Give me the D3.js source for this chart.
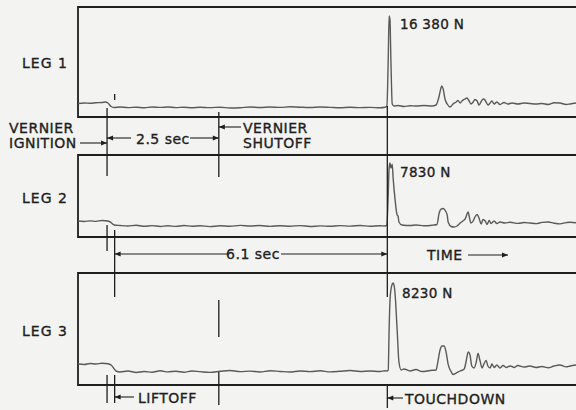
<!DOCTYPE html>
<html><head><meta charset="utf-8">
<script src="https://cdn.jsdelivr.net/npm/d3@7"></script>
<style>
html,body{margin:0;padding:0;background:#f3f3f1;}
svg{display:block;}
text{font-family:"DejaVu Sans",sans-serif;fill:#1e1e1e;stroke:#1e1e1e;stroke-width:0.35px;}
</style></head>
<body>
<script>
// ---- data (time in s from vernier ignition, leg force in N) ----
const legNames = ["LEG 1", "LEG 2", "LEG 3"];
const peakLabels = ["16 380 N", "7830 N", "8230 N"];
const peakForces = [16380, 7830, 8230];
const eventNames = ["VERNIER IGNITION", "LIFTOFF", "VERNIER SHUTOFF", "TOUCHDOWN"];
const eventTimes = [0, 0.17, 2.5, 6.27];
const intervalLabels = ["2.5 sec", "6.1 sec"];

const leg1 = [[-0.65,630],[-0.51,720],[-0.38,670],[-0.25,760],[-0.11,810],[-0.04,900],[0.02,720],[0.09,90],[0.16,-90],[0.29,0],[0.47,-110],[0.65,-40],[0.83,-140],[1.01,0],[1.19,-70],[1.36,0],[1.54,-110],[1.72,-40],[1.90,-140],[2.08,-50],[2.30,-110],[2.53,-40],[2.75,-180],[2.98,-140],[3.20,0],[3.42,-90],[3.65,0],[3.87,-70],[4.09,40],[4.32,-40],[4.54,-90],[4.77,0],[4.99,-70],[5.21,-140],[5.44,-50],[5.66,-110],[5.88,-70],[6.11,-140],[6.22,-50],[6.26,180],[6.29,8460],[6.31,16380],[6.33,15660],[6.35,8460],[6.38,540],[6.42,180],[6.51,270],[6.64,90],[6.78,220],[6.91,180],[7.09,270],[7.27,180],[7.36,360],[7.43,1980],[7.47,3420],[7.49,3780],[7.52,3240],[7.56,1440],[7.61,540],[7.67,0],[7.74,540],[7.81,900],[7.85,1170],[7.90,720],[7.94,1080],[8.01,1440],[8.05,1620],[8.10,1080],[8.14,540],[8.19,900],[8.23,1350],[8.28,1080],[8.32,360],[8.39,1260],[8.43,1440],[8.48,900],[8.52,360],[8.57,720],[8.61,1080],[8.66,540],[8.72,900],[8.79,450],[8.88,810],[8.97,540],[9.06,720],[9.19,540],[9.33,720],[9.46,630],[9.60,540],[9.73,630],[9.87,450],[10.00,760],[10.13,720],[10.27,450],[10.36,540],[10.49,720]];

const leg2 = [[-0.65,620],[-0.51,560],[-0.38,640],[-0.25,580],[-0.11,680],[0.02,620],[0.09,430],[0.16,124],[0.29,60],[0.47,0],[0.65,90],[0.83,-40],[1.01,50],[1.19,-60],[1.36,25],[1.54,-50],[1.72,60],[1.90,-25],[2.08,40],[2.30,-75],[2.53,25],[2.75,-40],[2.98,75],[3.20,0],[3.42,60],[3.65,-50],[3.87,40],[4.09,-25],[4.32,50],[4.54,-60],[4.77,12],[4.99,-40],[5.21,50],[5.44,-12],[5.66,60],[5.88,-25],[6.11,25],[6.22,0],[6.26,124],[6.29,3840],[6.31,7190],[6.33,7830],[6.35,7190],[6.38,7690],[6.40,5950],[6.44,3470],[6.49,1360],[6.51,1240],[6.53,500],[6.60,124],[6.78,60],[6.91,124],[7.09,25],[7.27,90],[7.38,190],[7.43,1610],[7.47,2110],[7.52,2170],[7.56,1980],[7.61,1360],[7.63,500],[7.70,-60],[7.76,-124],[7.83,0],[7.90,370],[7.96,620],[8.01,870],[8.08,1740],[8.10,1240],[8.14,370],[8.19,620],[8.23,1120],[8.28,1430],[8.32,990],[8.37,250],[8.41,810],[8.46,620],[8.50,190],[8.55,680],[8.59,310],[8.66,620],[8.72,310],[8.79,500],[8.90,370],[9.02,460],[9.19,330],[9.33,430],[9.46,370],[9.60,300],[9.73,450],[9.87,500],[10.00,350],[10.13,270],[10.27,420],[10.36,470],[10.49,400]];

const leg3 = [[-0.65,650],[-0.51,610],[-0.38,700],[-0.25,650],[-0.11,720],[0.02,680],[0.09,560],[0.16,200],[0.20,0],[0.29,-90],[0.47,0],[0.65,-140],[0.83,-50],[1.01,-120],[1.19,20],[1.36,-80],[1.54,-20],[1.72,-110],[1.90,0],[2.08,-60],[2.30,-130],[2.53,-30],[2.75,50],[2.98,-60],[3.20,-10],[3.42,-90],[3.65,30],[3.87,-40],[4.09,-100],[4.32,0],[4.54,-60],[4.77,20],[4.99,-80],[5.21,-30],[5.44,40],[5.66,-50],[5.88,0],[6.11,-40],[6.22,20],[6.26,0],[6.29,90],[6.31,3830],[6.33,6640],[6.35,7570],[6.38,8130],[6.40,8230],[6.42,8040],[6.44,7390],[6.49,3830],[6.53,840],[6.58,90],[6.64,190],[6.78,0],[6.91,140],[7.05,-50],[7.23,50],[7.36,90],[7.40,840],[7.45,1960],[7.49,2340],[7.54,2340],[7.58,1870],[7.63,650],[7.70,-90],[7.74,-330],[7.81,-190],[7.90,0],[7.99,190],[8.03,840],[8.08,1780],[8.12,1500],[8.16,470],[8.21,280],[8.26,840],[8.30,1640],[8.34,1030],[8.39,280],[8.43,650],[8.48,980],[8.52,470],[8.57,280],[8.61,650],[8.66,330],[8.72,560],[8.79,280],[8.86,510],[8.93,330],[9.02,470],[9.11,330],[9.19,510],[9.33,370],[9.46,470],[9.60,330],[9.73,420],[9.87,300],[10.00,470],[10.13,560],[10.27,390],[10.36,470],[10.49,560]];

const traces = [leg1, leg2, leg3];

// ---- layout ----
const W = 576, H = 410;
const svg = d3.select("body").append("svg").attr("width", W).attr("height", H);
svg.append("rect").attr("width", W).attr("height", H).attr("fill", "#f3f3f1");

const defs = svg.append("defs");
defs.append("marker").attr("id","ah").attr("viewBox","0 0 10 10")
  .attr("refX",10).attr("refY",5).attr("markerWidth",9).attr("markerHeight",6)
  .attr("markerUnits","userSpaceOnUse").attr("orient","auto-start-reverse")
  .append("path").attr("d","M0,1 L10,5 L0,9 Z").attr("fill","#1e1e1e");
defs.append("filter").attr("id","soft").append("feGaussianBlur").attr("stdDeviation",0.35);

const x = d3.scaleLinear().domain([-0.65, 10.5]).range([78, 576.4]);

const panels = [
  {top:7,   bottom:117, base:107, peakY:16,  labelY:68,  peakLabX:400, peakLabY:29},
  {top:155, bottom:237, base:226, peakY:163, labelY:203, peakLabX:400, peakLabY:177},
  {top:273, bottom:385, base:371, peakY:283, labelY:336, peakLabX:402, peakLabY:298}
];

const ink = "#1e1e1e";
const tr = "#5a5a5a";

panels.forEach((p, i) => {
  const y = d3.scaleLinear().domain([0, peakForces[i]]).range([p.base, p.peakY]);
  const g = svg.append("g");
  g.append("path").attr("d", `M${W+5},${p.top} H78 V${p.bottom} H${W+5}`)
    .attr("fill","none").attr("stroke",ink).attr("stroke-width",1.8);
  g.append("path").datum(traces[i])
    .attr("d", d3.line().x(d => x(d[0])).y(d => y(d[1])).curve(d3.curveMonotoneX))
    .attr("fill","none").attr("stroke",tr).attr("stroke-width",1.4)
    .attr("stroke-linejoin","round").attr("filter","url(#soft)");
  g.append("text").attr("x",22).attr("y",p.labelY).attr("font-size",14)
    .attr("letter-spacing",1).text(legNames[i]);
  g.append("text").attr("x",p.peakLabX).attr("y",p.peakLabY).attr("font-size",13.5)
    .attr("letter-spacing",0.3).text(peakLabels[i]);
});

// event marker lines
const [tIgn, tLift, tShut, tTouch] = eventTimes.map(t => x(t));
const vsegs = [
  [tIgn,108,176],[tIgn,225,251],[tIgn,375,403],
  [tLift,94,100],[tLift,230,297],[tLift,375,403],
  [tShut,112,177],[tShut,300,337],[tShut,372,405],
  [tTouch,106,297],[tTouch,385,408]
];
svg.append("g").selectAll("line").data(vsegs).join("line")
  .attr("x1",d=>d[0]).attr("x2",d=>d[0]).attr("y1",d=>d[1]).attr("y2",d=>d[2])
  .attr("stroke",ink).attr("stroke-width",1.3);

function arrow(x1, y1, x2, y2) {
  svg.append("line").attr("x1",x1).attr("y1",y1).attr("x2",x2).attr("y2",y2)
    .attr("stroke",ink).attr("stroke-width",1.1).attr("marker-end","url(#ah)");
}
const txt = (s, xx, yy, anchor="start", size=14) =>
  svg.append("text").attr("x",xx).attr("y",yy).attr("font-size",size)
    .attr("text-anchor",anchor).attr("letter-spacing",0.5).text(s);

const ign = eventNames[0].split(" ");
txt(ign[0], 9, 133);
txt(ign[1], 9, 148);
arrow(80, 143, tIgn, 143);
txt(intervalLabels[0], (tIgn + tShut) / 2, 144, "middle");
arrow(131, 138, tIgn, 138);
arrow(190, 138, tShut, 138);
const sh = eventNames[2].split(" ");
txt(sh[0], 243, 133);
txt(sh[1], 243, 148);
arrow(241, 127, tShut, 127);
txt(intervalLabels[1], (tLift + tTouch) / 2 + 2, 259, "middle");
arrow(228, 254, tLift, 254);
arrow(281, 254, tTouch, 254);
txt("TIME", 427, 260);
arrow(468, 255, 508, 255);
arrow(134, 397, tLift, 397);
txt(eventNames[1], 138, 403);
arrow(403, 398, tTouch, 398);
txt(eventNames[3], 405, 404);
</script>
</body></html>
